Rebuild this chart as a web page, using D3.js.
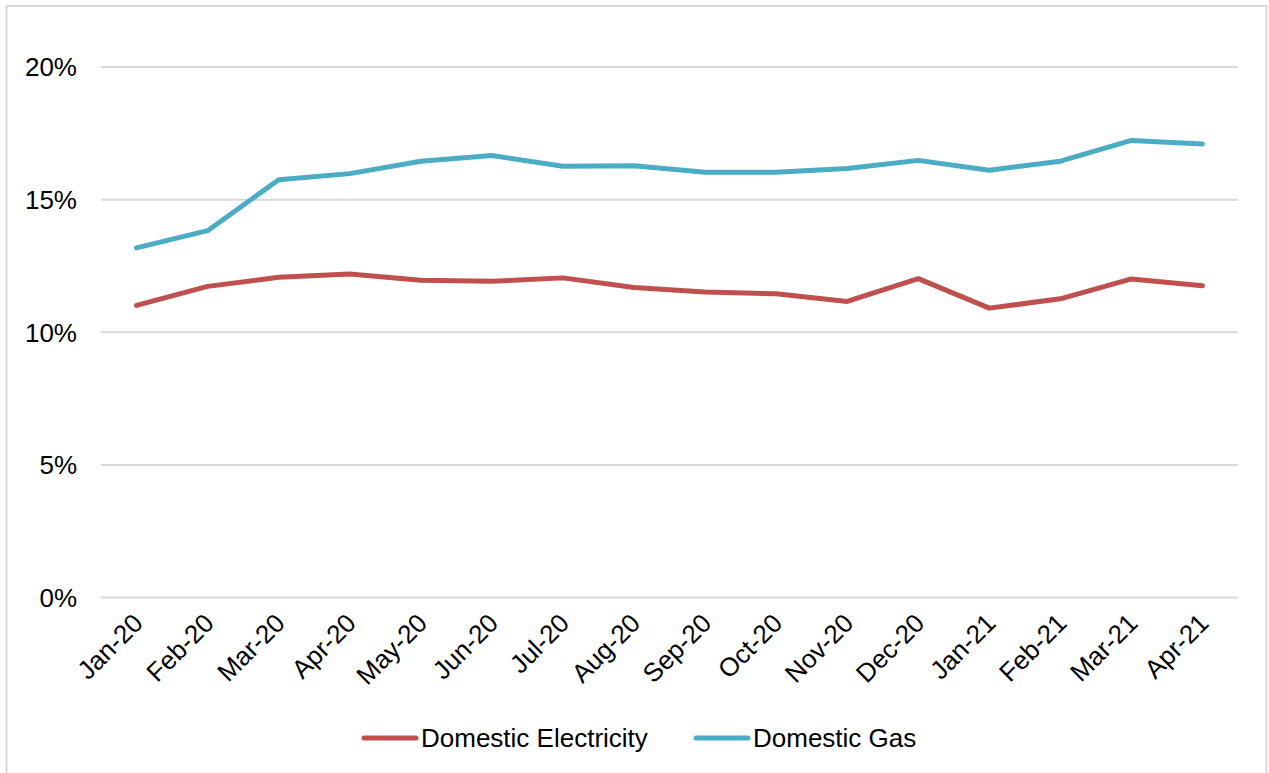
<!DOCTYPE html>
<html>
<head>
<meta charset="utf-8">
<script src="https://cdn.jsdelivr.net/npm/d3@7"></script>
<style>
  html, body { margin: 0; padding: 0; background: #fff; }
  svg { display: block; font-family: "Liberation Sans", Arial, sans-serif; }
</style>
</head>
<body>
<svg id="chart" width="1269" height="773"></svg>
<script>
// Monthly categories
const months = ["Jan-20", "Feb-20", "Mar-20", "Apr-20", "May-20", "Jun-20", "Jul-20", "Aug-20",
                "Sep-20", "Oct-20", "Nov-20", "Dec-20", "Jan-21", "Feb-21", "Mar-21", "Apr-21"];

// Share values (percent)
const electricity = [11.01, 11.73, 12.07, 12.20, 11.96, 11.92, 12.05, 11.69,
                     11.52, 11.45, 11.16, 12.02, 10.91, 11.26, 12.01, 11.75];
const gas = [13.18, 13.83, 15.75, 15.98, 16.45, 16.66, 16.26, 16.28,
             16.03, 16.03, 16.17, 16.48, 16.11, 16.45, 17.23, 17.10];

const yTicks = [0, 5, 10, 15, 20];

const seriesNames = ["Domestic Electricity", "Domestic Gas"];
const seriesColors = ["#C0504D", "#4BACC6"];

const svg = d3.select("#chart");

// outer frame
svg.append("rect")
  .attr("x", 6.5).attr("y", 6)
  .attr("width", 1260).attr("height", 800)
  .attr("fill", "none")
  .attr("stroke", "#D9D9D9")
  .attr("stroke-width", 2);

const plot = { left: 101, right: 1238, top: 67, bottom: 597.5 };

const x = d3.scaleBand().domain(months).range([plot.left, plot.right]);
const y = d3.scaleLinear().domain([0, 20]).range([plot.bottom, plot.top]);

// horizontal gridlines
svg.append("g").selectAll("line")
  .data(yTicks).join("line")
  .attr("x1", plot.left).attr("x2", plot.right)
  .attr("y1", d => y(d)).attr("y2", d => y(d))
  .attr("stroke", "#D9D9D9").attr("stroke-width", 2);

// y axis labels
svg.append("g").selectAll("text")
  .data(yTicks).join("text")
  .attr("x", 77).attr("y", d => y(d))
  .attr("dy", "0.36em")
  .attr("text-anchor", "end")
  .attr("font-size", 26)
  .attr("fill", "#000")
  .text(d => d + "%");

// x axis labels, rotated
const cx = d => x(d) + x.bandwidth() / 2;
svg.append("g").selectAll("text")
  .data(months).join("text")
  .attr("transform", d => `translate(${cx(d) - 5},${612}) rotate(-45)`)
  .attr("text-anchor", "end")
  .attr("dy", "0.7em")
  .attr("font-size", 26)
  .attr("fill", "#000")
  .text(d => d);

// series lines
const line = d3.line()
  .x((d, i) => cx(months[i]))
  .y(d => y(d));

[electricity, gas].forEach((vals, k) => {
  svg.append("path")
    .datum(vals)
    .attr("d", line)
    .attr("fill", "none")
    .attr("stroke", seriesColors[k])
    .attr("stroke-width", 5)
    .attr("stroke-linejoin", "round")
    .attr("stroke-linecap", "round");
});

// legend
const legendItems = [
  { name: seriesNames[0], color: seriesColors[0], x0: 362 },
  { name: seriesNames[1], color: seriesColors[1], x0: 694 }
];
const lg = svg.append("g");
legendItems.forEach(it => {
  lg.append("line")
    .attr("x1", it.x0 + 2).attr("x2", it.x0 + 54)
    .attr("y1", 738).attr("y2", 738)
    .attr("stroke", it.color).attr("stroke-width", 5)
    .attr("stroke-linecap", "round");
  lg.append("text")
    .attr("x", it.x0 + 59).attr("y", 738)
    .attr("dy", "0.36em")
    .attr("font-size", 26)
    .attr("fill", "#000")
    .text(it.name);
});
</script>
</body>
</html>
